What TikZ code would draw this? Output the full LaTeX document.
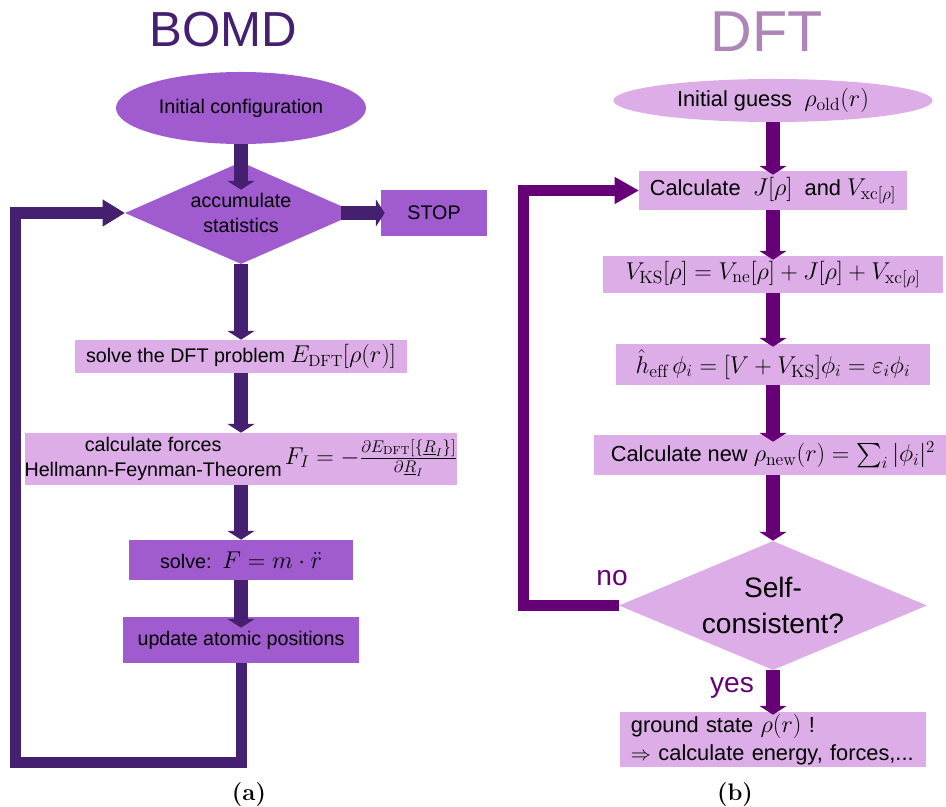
\documentclass[tikz,border=0pt]{standalone}
\usepackage{amsmath}
\usepackage{fontspec}
\setsansfont{Liberation Sans}
\usetikzlibrary{arrows.meta,shapes.geometric}
\definecolor{bomdFonce}{RGB}{69,32,112}
\definecolor{bomdMoyen}{RGB}{160,92,207}
\definecolor{mauveClair}{RGB}{220,173,230}
\definecolor{dftFonce}{RGB}{102,0,119}
\definecolor{dftTitre}{RGB}{173,133,182}
\newcommand{\formuleP}[1]{{\fontsize{16.5}{18}\selectfont$#1$}}
\newcommand{\formuleG}[1]{{\fontsize{18}{20}\selectfont$#1$}}
\tikzset{
  texteL/.style={font=\sffamily\fontsize{14}{18}\selectfont},
  texteR/.style={font=\sffamily\fontsize{15.5}{20}\selectfont},
  boiteL/.style={rectangle, fill=mauveClair, inner sep=0pt, texteL},
  boiteM/.style={rectangle, fill=bomdMoyen, inner sep=0pt, texteL},
  boiteR/.style={rectangle, fill=mauveClair, inner sep=0pt, texteR},
  flecheL/.style={draw=bomdFonce, line width=0.35cm, -{Triangle[width=0.68cm,length=0.22cm,line width=0pt]}},
  flecheR/.style={draw=dftFonce, line width=0.36cm, -{Triangle[width=0.68cm,length=0.22cm,line width=0pt]}},
  boucleL/.style={draw=bomdFonce, line width=0.275cm, line join=miter, -{Triangle[width=0.68cm,length=0.55cm,line width=0pt]}},
  boucleR/.style={draw=dftFonce, line width=0.275cm, line join=miter, -{Triangle[width=0.68cm,length=0.6cm,line width=0pt]}},
  reponse/.style={font=\sffamily\fontsize{20}{24}\selectfont, text=dftFonce, anchor=base}
}
\begin{document}
\begin{tikzpicture}[x=0.025cm, y=-0.025cm]
\useasboundingbox (0,0) rectangle (946,807);
% Titres
\node[font=\sffamily\fontsize{35}{40}\selectfont, text=bomdFonce, anchor=base] (titreL) at (223,47) {BOMD};
\node[font=\sffamily\fontsize{41}{46}\selectfont, text=dftTitre, anchor=base] (titreR) at (767,52) {DFT};
% BOMD : noeuds
\node[ellipse, fill=bomdMoyen, texteL, minimum width=6.25cm, minimum height=1.8cm, inner sep=0pt] (ini) at (241,108) {Initial configuration};
\node[diamond, aspect=2.3, fill=bomdMoyen, texteL, align=center, minimum width=5.8cm, minimum height=2.55cm, inner sep=0pt] (acc) at (241,213) {accumulate\\statistics};
\node[boiteM, minimum width=2.65cm, minimum height=1.15cm] (stop) at (434,213) {STOP};
\node[boiteL, minimum width=8.3cm, minimum height=0.825cm] (dft) at (241,356.5) {solve the DFT problem \formuleP{E_{\mathrm{DFT}}[\rho(r)]}};
\node[boiteL, minimum width=10.8cm, minimum height=1.3cm] (frc) at (241,459) {\begin{tabular}{@{}c@{}}calculate forces\\Hellmann-Feynman-Theorem\end{tabular}\,\formuleP{F_I=-\frac{\partial E_{\mathrm{DFT}}[\{\underline{R}_I\}]}{\partial \underline{R}_I}}};
\node[boiteM, minimum width=5.6cm, minimum height=1.0cm] (slv) at (241,560) {solve:\ \ \formuleG{F=m\cdot\ddot{r}}};
\node[boiteM, minimum width=5.9cm, minimum height=1.15cm] (upd) at (241,640) {update atomic positions};
% BOMD : fleches
\foreach \de/\vers/\dec in {ini/acc/-0.7cm, acc/dft/0cm, dft/frc/0cm, frc/slv/0cm, slv/upd/-0.275cm}
  \draw[flecheL, shorten >=\dec] (\de) -- (\vers);
\draw[flecheL, line width=0.33cm, shorten <=-0.42cm, shorten >=-0.1cm] (acc) -- (stop);
\coordinate (coinL) at (15.5,762);
\draw[boucleL] (upd.south) |- (coinL) |- (acc.west);
% DFT : noeuds
\node[ellipse, fill=mauveClair, texteR, minimum width=7.975cm, minimum height=1.075cm, inner sep=0pt] (gue) at (773,100.5) {Initial guess\ \ \formuleG{\rho_{\mathrm{old}}(r)}};
\node[boiteR, minimum width=6.7cm, minimum height=0.975cm] (cJ) at (773,190.5) {Calculate\ \ \formuleG{J[\rho]}\ \ and \formuleG{V_{\mathrm{xc}[\rho]}}};
\node[boiteR, minimum width=8.475cm, minimum height=0.925cm] (ks) at (773,274.5) {\formuleG{V_{\mathrm{KS}}[\rho]=V_{\mathrm{ne}}[\rho]+J[\rho]+V_{\mathrm{xc}[\rho]}}};
\node[boiteR, minimum width=7.825cm, minimum height=1.025cm] (hh) at (773,364.5) {\formuleG{\hat{h}_{\mathrm{eff}}\,\phi_i=[V+V_{\mathrm{KS}}]\phi_i=\varepsilon_i\phi_i}};
\node[boiteR, minimum width=8.95cm, minimum height=1.0cm] (nw) at (773,455) {Calculate new \formuleG{\rho_{\mathrm{new}}(r)=\sum_i|\phi_i|^2}};
\node[diamond, aspect=2.4, fill=mauveClair, font=\sffamily\fontsize{20}{25}\selectfont, align=center, minimum width=7.7cm, minimum height=3.225cm, inner sep=0pt] (sc) at (773,605.5) {Self-\\consistent?};
\node[boiteR, minimum width=7.65cm, minimum height=1.375cm, text width=7.1cm, inner xsep=0.275cm, align=left] (gs) at (773,739.5) {ground state \formuleG{\rho(r)} !\\$\Rightarrow$\ calculate energy, forces,...};
% DFT : fleches
\foreach \de/\vers/\dec in {gue/cJ/-0.1cm, cJ/ks/-0.1cm, ks/hh/-0.075cm, hh/nw/-0.175cm, nw/sc/0cm, sc/gs/-0.075cm}
  \draw[flecheR, shorten >=\dec] (\de) -- (\vers);
\coordinate (coinR) at (523.5,605.5);
\draw[boucleR] (sc.west) -- (coinR) |- (cJ.west);
\node[reponse] (non) at (612,585) {no};
\node[reponse] (oui) at (732,692) {yes};
% Legendes
\node[font=\bfseries\fontsize{17}{20}\selectfont, anchor=base] (capA) at (249,800) {(a)};
\node[font=\bfseries\fontsize{17}{20}\selectfont, anchor=base] (capB) at (735,800) {(b)};
\end{tikzpicture}
\end{document}
